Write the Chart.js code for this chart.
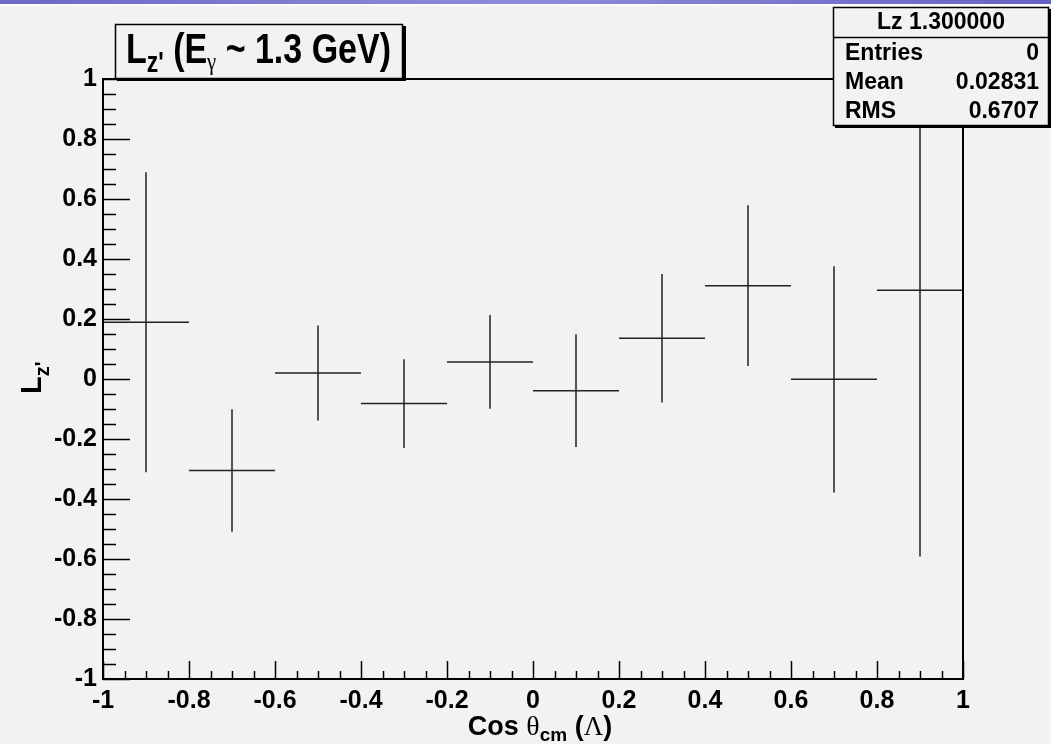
<!DOCTYPE html>
<html>
<head>
<meta charset="utf-8">
<script src="https://cdn.jsdelivr.net/npm/chart.js@4.4.1/dist/chart.umd.min.js"></script>
<style>
  html, body { margin: 0; padding: 0; background: #f2f2f2; }
  canvas { display: block; }
</style>
</head>
<body>
<canvas id="lzChart" width="1051" height="744"></canvas>
<script>
// cos theta_cm bins (10 bins from -1 to 1)
const binCenters = [-0.9, -0.7, -0.5, -0.3, -0.1, 0.1, 0.3, 0.5, 0.7, 0.9];
const binWidth = 0.2;
const lzValues = [0.189, -0.305, 0.020, -0.082, 0.057, -0.039, 0.136, 0.311, -0.001, 0.296];
const lzErrors = [0.500, 0.204, 0.158, 0.148, 0.156, 0.188, 0.214, 0.268, 0.377, 0.888];

const axisMin = -1;
const axisMax = 1;
const majorStep = 0.2;
const minorStep = 0.05;

const statsTitle = "Lz 1.300000";
const statsNames = ["Entries", "Mean", "RMS"];
const statsValues = ["0", "0.02831", "0.6707"];

const sans = '"Liberation Sans", Arial, sans-serif';
const serif = '"Liberation Serif", "DejaVu Serif", serif';

// each bin drawn as a cross: horizontal bin width + vertical error
const crossPoints = [];
binCenters.forEach(function (c, i) {
    const v = lzValues[i];
    const e = lzErrors[i];
    crossPoints.push({ x: c - binWidth / 2, y: v }, { x: c + binWidth / 2, y: v }, { x: c, y: null });
    crossPoints.push({ x: c, y: v - e }, { x: c, y: v + e }, { x: c, y: null });
});

function tickLabel(v) {
    const r = Math.round(v * 10) / 10;
    return String(r === 0 ? 0 : r);
}

// text made of pieces (sub/superscripts), optionally squeezed to a width
function drawPieces(ctx, pieces, x0, fitWidth) {
    let total = 0;
    pieces.forEach(function (p) {
        ctx.font = p.font;
        total += ctx.measureText(p.t).width;
    });
    const sx = fitWidth ? fitWidth / total : 1;
    ctx.save();
    ctx.translate(x0, 0);
    ctx.scale(sx, 1);
    let cx = 0;
    pieces.forEach(function (p) {
        ctx.font = p.font;
        ctx.fillText(p.t, cx, p.y);
        cx += ctx.measureText(p.t).width;
    });
    ctx.restore();
    return total * sx;
}

const background = {
    id: 'background',
    beforeDraw(chart) {
        const ctx = chart.ctx;
        ctx.save();
        ctx.fillStyle = '#f2f2f2';
        ctx.fillRect(0, 0, chart.width, chart.height);
        const g = ctx.createLinearGradient(0, 0, chart.width, 0);
        g.addColorStop(0, '#6c68c8');
        g.addColorStop(0.5, '#8e8cd8');
        g.addColorStop(1, '#6662c4');
        ctx.fillStyle = g;
        ctx.fillRect(0, 0, chart.width, 4);
        ctx.fillStyle = '#fcfcfc';
        ctx.fillRect(0, 4, chart.width, 2);
        ctx.restore();
    }
};

const rootFrame = {
    id: 'rootFrame',
    afterDatasetsDraw(chart) {
        const ctx = chart.ctx;
        const a = chart.chartArea;
        const xs = chart.scales.x;
        const ys = chart.scales.y;
        ctx.save();
        ctx.strokeStyle = '#000';
        ctx.lineWidth = 1.5;
        const n = Math.round((axisMax - axisMin) / minorStep);
        const perMajor = Math.round(majorStep / minorStep);
        for (let k = 0; k <= n; k++) {
            const v = axisMin + k * minorStep;
            const major = k % perMajor === 0;
            const px = Math.round(xs.getPixelForValue(v)) + 0.5;
            ctx.beginPath();
            ctx.moveTo(px, a.bottom);
            ctx.lineTo(px, a.bottom - (major ? 18 : 8));
            ctx.stroke();
            const py = Math.round(ys.getPixelForValue(v)) + 0.5;
            ctx.beginPath();
            ctx.moveTo(a.left, py);
            ctx.lineTo(a.left + (major ? 27 : 13), py);
            ctx.stroke();
        }
        // frame
        ctx.lineWidth = 2;
        ctx.beginPath();
        ctx.moveTo(a.left, a.top);
        ctx.lineTo(a.right, a.top);
        ctx.lineTo(a.right, a.bottom);
        ctx.lineTo(a.left, a.bottom);
        ctx.closePath();
        ctx.stroke();
        ctx.restore();
    },
    afterDraw(chart) {
        const ctx = chart.ctx;
        ctx.save();
        ctx.fillStyle = '#000';
        ctx.textBaseline = 'alphabetic';

        // title box
        ctx.fillRect(117, 26, 289, 55);
        ctx.fillStyle = '#f2f2f2';
        ctx.fillRect(115, 24, 288, 54);
        ctx.strokeStyle = '#000';
        ctx.lineWidth = 1.5;
        ctx.strokeRect(115.5, 24.5, 287, 54);
        ctx.fillStyle = '#000';
        drawPieces(ctx, [
            { t: 'L', font: 'bold 43px ' + sans, y: 63 },
            { t: "z'", font: 'bold 29px ' + sans, y: 72 },
            { t: ' (E', font: 'bold 43px ' + sans, y: 63 },
            { t: '\u03b3', font: '26px ' + serif, y: 70 },
            { t: ' ~ 1.3 GeV)', font: 'bold 43px ' + sans, y: 63 }
        ], 126, 265);

        // stats box
        const bx = 833, by = 7, bw = 216, bh = 119;
        ctx.fillRect(bx + 2, by + 2, bw, bh);
        ctx.fillStyle = '#f2f2f2';
        ctx.fillRect(bx, by, bw, bh);
        ctx.strokeRect(bx + 0.5, by + 0.5, bw - 1, bh - 1);
        ctx.beginPath();
        ctx.moveTo(bx, 37.5);
        ctx.lineTo(bx + bw, 37.5);
        ctx.stroke();
        ctx.fillStyle = '#000';
        ctx.font = 'bold 23px ' + sans;
        ctx.textAlign = 'center';
        ctx.fillText(statsTitle, bx + bw / 2, 29);
        const rowY = [60, 89, 118];
        statsNames.forEach(function (name, i) {
            ctx.textAlign = 'left';
            ctx.fillText(name, 845, rowY[i]);
            ctx.textAlign = 'right';
            ctx.fillText(statsValues[i], 1039, rowY[i]);
        });

        // x axis title
        ctx.textAlign = 'left';
        const xPieces = [
            { t: 'Cos ', font: 'bold 27px ' + sans, y: 735 },
            { t: '\u03b8', font: '28px ' + serif, y: 735 },
            { t: 'cm', font: 'bold 19px ' + sans, y: 741 },
            { t: ' (', font: 'bold 27px ' + sans, y: 735 },
            { t: '\u039b', font: '27px ' + serif, y: 735 },
            { t: ')', font: 'bold 27px ' + sans, y: 735 }
        ];
        let w = 0;
        xPieces.forEach(function (p) { ctx.font = p.font; w += ctx.measureText(p.t).width; });
        drawPieces(ctx, xPieces, 540 - w / 2);

        // y axis title, rotated
        ctx.save();
        ctx.translate(41, 394);
        ctx.rotate(-Math.PI / 2);
        drawPieces(ctx, [
            { t: 'L', font: 'bold 29px ' + sans, y: 0 },
            { t: "z'", font: 'bold 20px ' + sans, y: 8 }
        ], 0);
        ctx.restore();
        ctx.restore();
    }
};

const lzCtx = document.getElementById('lzChart').getContext('2d');
const lzChart = new Chart(lzCtx, {
    type: 'scatter',
    data: {
        datasets: [
            {
                label: 'Lz',
                data: crossPoints,
                showLine: true,
                spanGaps: false,
                borderColor: '#222',
                borderWidth: 1.5,
                pointRadius: 0,
                pointHoverRadius: 0,
            },
        ],
    },
    options: {
        responsive: false,
        animation: false,
        devicePixelRatio: 1,
        layout: {
            padding: { top: 79, right: 88, left: 0, bottom: 0 },
        },
        plugins: {
            legend: { display: false },
            tooltip: { enabled: false },
        },
        scales: {
            x: {
                type: 'linear',
                min: axisMin,
                max: axisMax,
                grid: { display: false, drawTicks: false },
                border: { display: false },
                ticks: {
                    stepSize: majorStep,
                    autoSkip: false,
                    maxRotation: 0,
                    padding: 7,
                    color: '#000',
                    font: { family: sans, size: 25, weight: 'bold' },
                    callback: tickLabel,
                },
                afterFit: function (scale) { scale.height = 65; },
            },
            y: {
                type: 'linear',
                min: axisMin,
                max: axisMax,
                grid: { display: false, drawTicks: false },
                border: { display: false },
                ticks: {
                    stepSize: majorStep,
                    autoSkip: false,
                    padding: 6,
                    color: '#000',
                    font: { family: sans, size: 25, weight: 'bold' },
                    callback: tickLabel,
                },
                afterFit: function (scale) { scale.width = 103; },
            },
        },
    },
    plugins: [background, rootFrame],
});
</script>
</body>
</html>
